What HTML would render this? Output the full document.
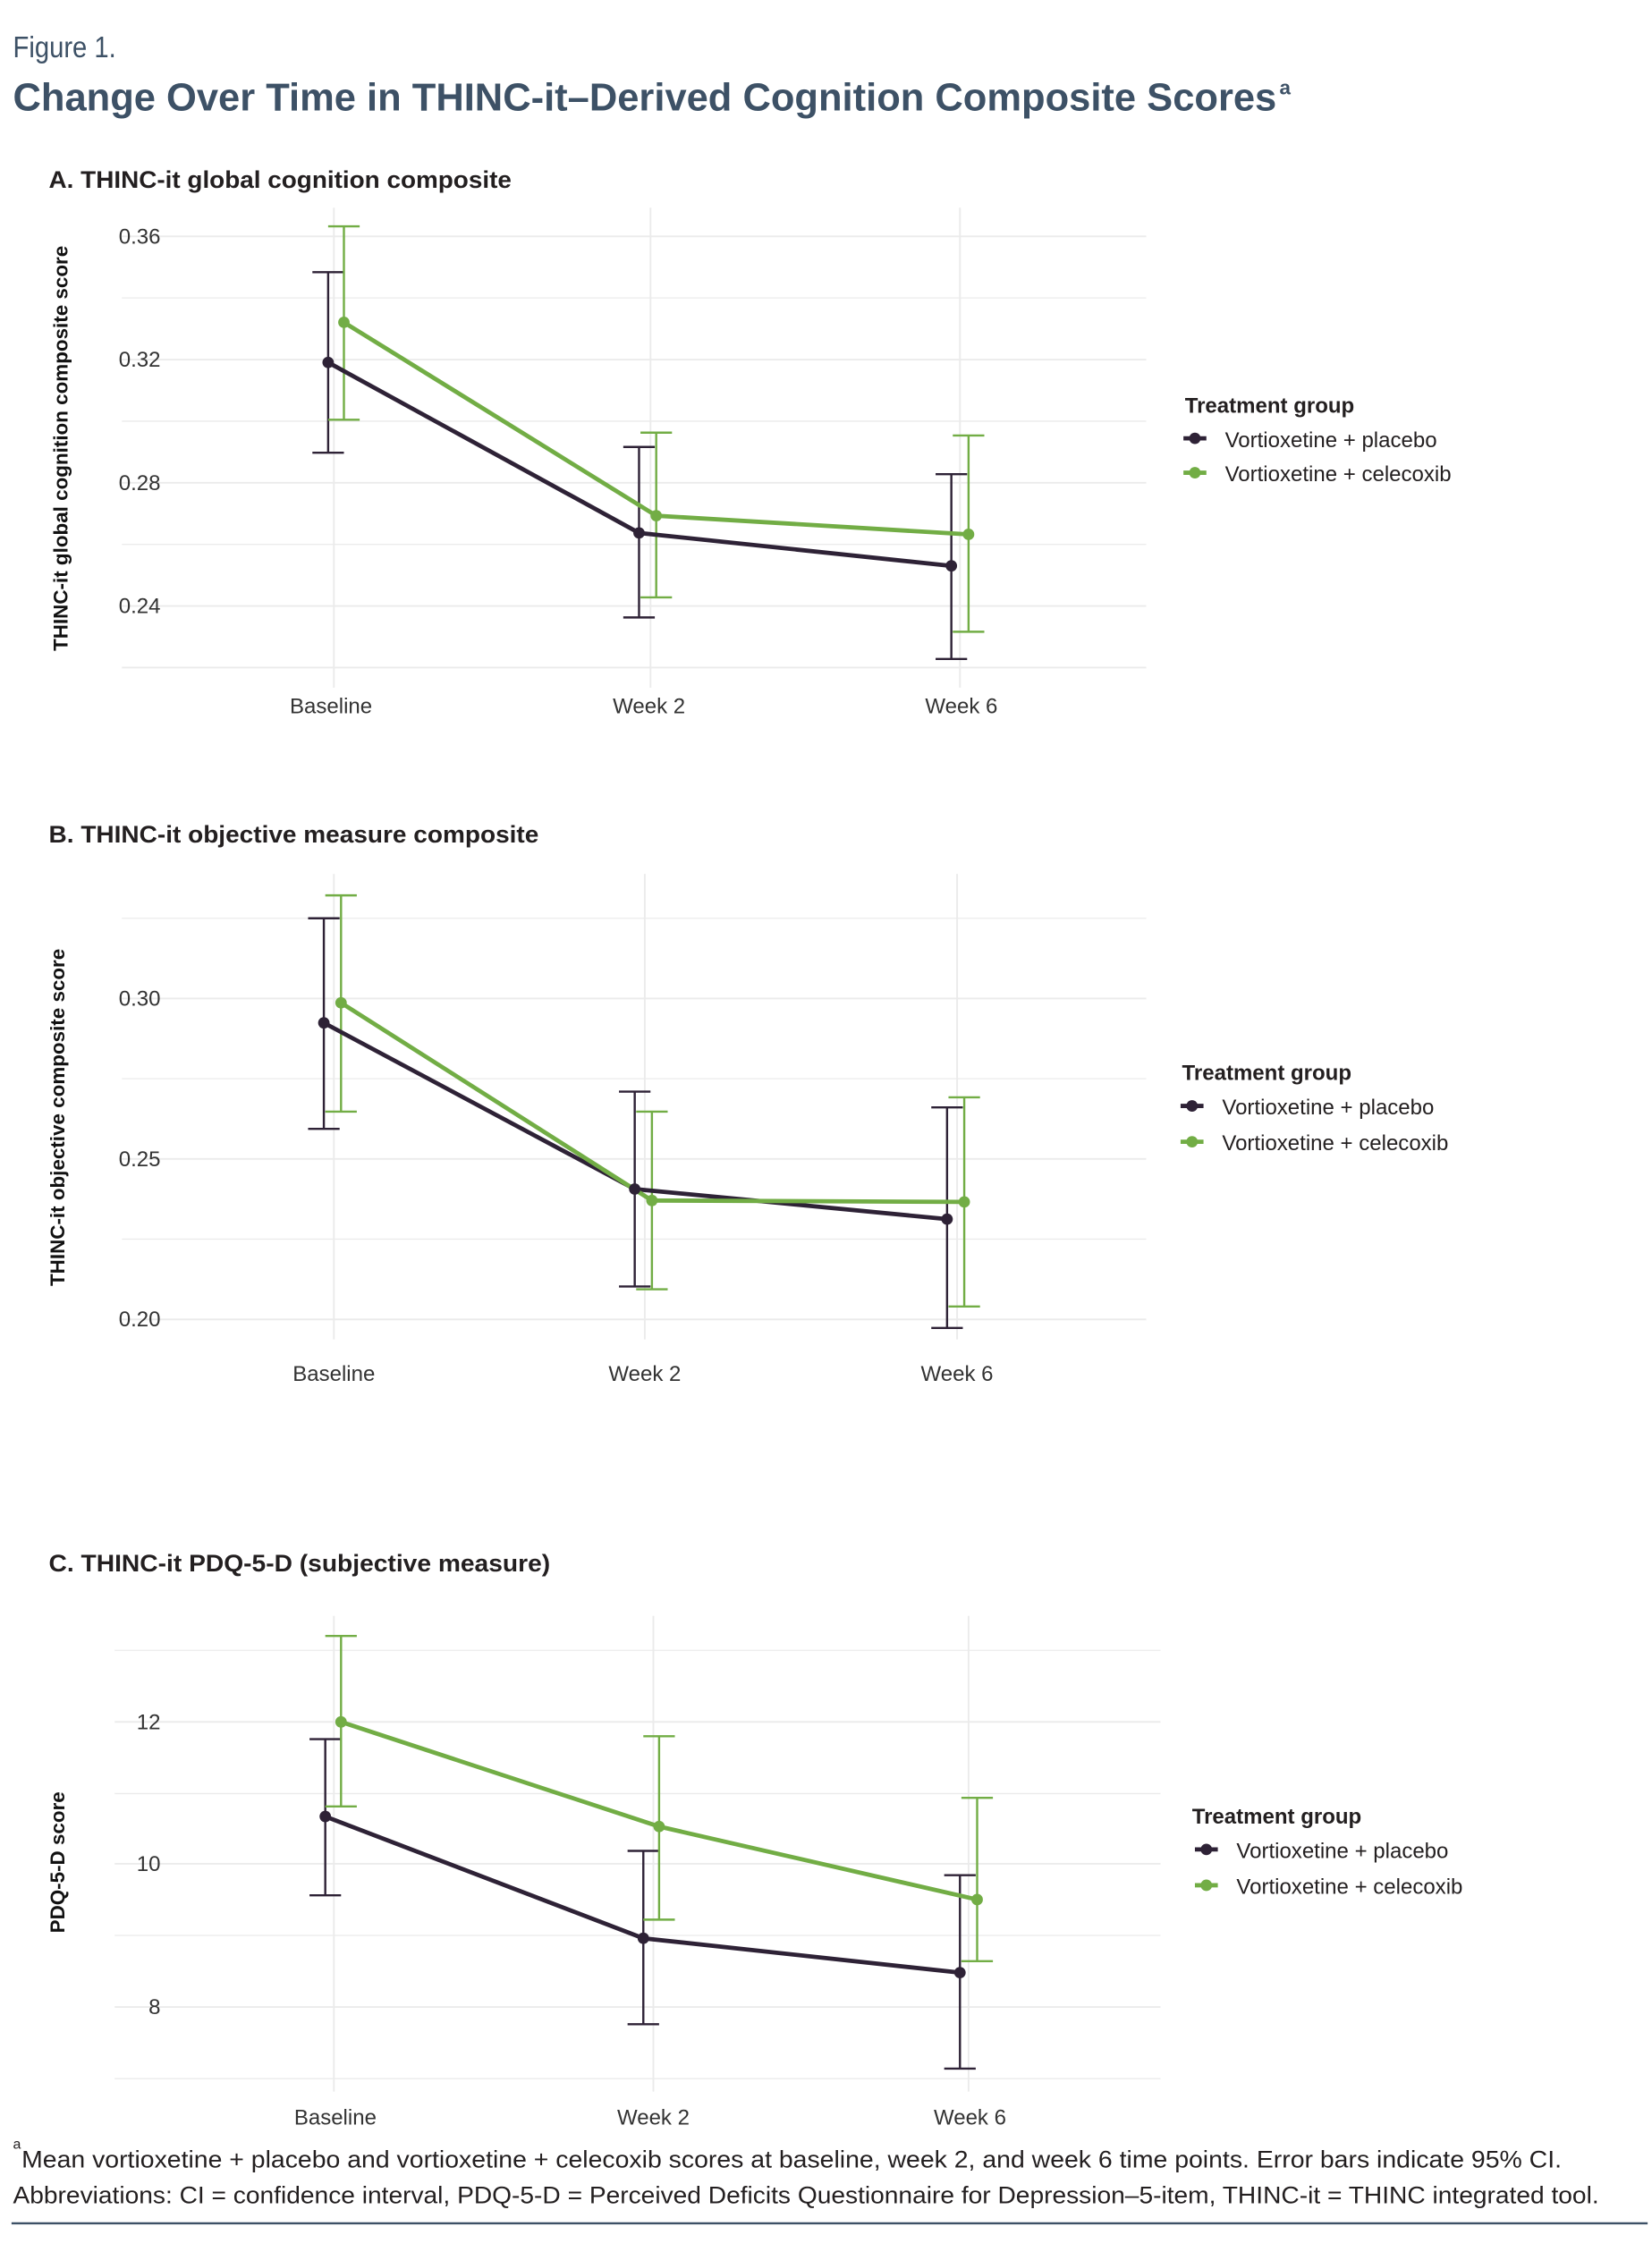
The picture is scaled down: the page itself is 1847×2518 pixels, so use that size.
<!DOCTYPE html>
<html><head><meta charset="utf-8"><style>
html,body{margin:0;padding:0;background:#fff;}
svg{display:block;}
text{font-family:"Liberation Sans",sans-serif;}
</style></head><body>
<svg width="1847" height="2518" viewBox="0 0 1153 1572" xmlns="http://www.w3.org/2000/svg">
<text x="9" y="40" font-size="21" fill="#3d5166" textLength="72" lengthAdjust="spacingAndGlyphs">Figure 1.</text>
<text x="9" y="77" font-size="27" font-weight="bold" fill="#3d5166" textLength="882" lengthAdjust="spacingAndGlyphs">Change Over Time in THINC-it–Derived Cognition Composite Scores</text>
<text x="893" y="66" font-size="14" font-weight="bold" fill="#3d5166">a</text>

<!-- Panel A -->
<text x="34" y="131" font-size="17" font-weight="bold" fill="#231f20" textLength="323" lengthAdjust="spacingAndGlyphs">A. THINC-it global cognition composite</text>
<g stroke="#ebebeb" stroke-width="1.2">
<line x1="85" y1="165" x2="800" y2="165"/><line x1="85" y1="251" x2="800" y2="251"/><line x1="85" y1="337" x2="800" y2="337"/><line x1="85" y1="423" x2="800" y2="423"/>
<line x1="85" y1="208" x2="800" y2="208" stroke-width="0.8"/><line x1="85" y1="294" x2="800" y2="294" stroke-width="0.8"/><line x1="85" y1="380" x2="800" y2="380" stroke-width="0.8"/><line x1="85" y1="466" x2="800" y2="466"/>
<line x1="233" y1="145" x2="233" y2="480"/><line x1="454" y1="145" x2="454" y2="480"/><line x1="670" y1="145" x2="670" y2="480"/>
</g>
<g font-size="15" fill="#333" text-anchor="end">
<text x="112" y="170">0.36</text><text x="112" y="256">0.32</text><text x="112" y="342">0.28</text><text x="112" y="428">0.24</text>
</g>
<g font-size="15" fill="#333" text-anchor="middle">
<text x="231" y="498">Baseline</text><text x="453" y="498">Week 2</text><text x="671" y="498">Week 6</text>
</g>
<text transform="translate(47,313) rotate(-90)" font-size="14" font-weight="bold" fill="#111" text-anchor="middle">THINC-it global cognition composite score</text>
<g stroke="#2e2236" stroke-width="1.5" fill="none">
<path d="M229 190V316M218 190H240M218 316H240"/>
<path d="M446 312V431M435 312H457M435 431H457"/>
<path d="M664 331V460M653 331H675M653 460H675"/>
</g>
<g stroke="#72ad45" stroke-width="1.5" fill="none">
<path d="M240 158V293M229 158H251M229 293H251"/>
<path d="M458 302V417M447 302H469M447 417H469"/>
<path d="M676 304V441M665 304H687M665 441H687"/>
</g>
<polyline points="229,253 446,372 664,395" fill="none" stroke="#2e2236" stroke-width="3"/>
<polyline points="240,225 458,360 676,373" fill="none" stroke="#72ad45" stroke-width="3"/>
<g fill="#2e2236"><circle cx="229" cy="253" r="4"/><circle cx="446" cy="372" r="4"/><circle cx="664" cy="395" r="4"/></g>
<g fill="#72ad45"><circle cx="240" cy="225" r="4"/><circle cx="458" cy="360" r="4"/><circle cx="676" cy="373" r="4"/></g>
<text x="827" y="288" font-size="15" font-weight="bold" fill="#231f20">Treatment group</text>
<line x1="826" y1="306" x2="842" y2="306" stroke="#2e2236" stroke-width="3"/><circle cx="834" cy="306" r="4" fill="#2e2236"/>
<text x="855" y="312" font-size="15" fill="#231f20">Vortioxetine + placebo</text>
<line x1="826" y1="330" x2="842" y2="330" stroke="#72ad45" stroke-width="3"/><circle cx="834" cy="330" r="4" fill="#72ad45"/>
<text x="855" y="336" font-size="15" fill="#231f20">Vortioxetine + celecoxib</text>

<!-- Panel B -->
<text x="34" y="588" font-size="17" font-weight="bold" fill="#231f20" textLength="342" lengthAdjust="spacingAndGlyphs">B. THINC-it objective measure composite</text>
<g stroke="#ebebeb" stroke-width="1.2">
<line x1="85" y1="641" x2="800" y2="641" stroke-width="0.8"/><line x1="85" y1="697" x2="800" y2="697"/><line x1="85" y1="753" x2="800" y2="753" stroke-width="0.8"/><line x1="85" y1="809" x2="800" y2="809"/><line x1="85" y1="865" x2="800" y2="865" stroke-width="0.8"/><line x1="85" y1="921" x2="800" y2="921"/>
<line x1="233" y1="610" x2="233" y2="935"/><line x1="450" y1="610" x2="450" y2="935"/><line x1="668" y1="610" x2="668" y2="935"/>
</g>
<g font-size="15" fill="#333" text-anchor="end">
<text x="112" y="702">0.30</text><text x="112" y="814">0.25</text><text x="112" y="926">0.20</text>
</g>
<g font-size="15" fill="#333" text-anchor="middle">
<text x="233" y="964">Baseline</text><text x="450" y="964">Week 2</text><text x="668" y="964">Week 6</text>
</g>
<text transform="translate(45,780) rotate(-90)" font-size="14" font-weight="bold" fill="#111" text-anchor="middle">THINC-it objective composite score</text>
<g stroke="#2e2236" stroke-width="1.5" fill="none">
<path d="M226 641V788M215 641H237M215 788H237"/>
<path d="M443 762V898M432 762H454M432 898H454"/>
<path d="M661 773V927M650 773H672M650 927H672"/>
</g>
<g stroke="#72ad45" stroke-width="1.5" fill="none">
<path d="M238 625V776M227 625H249M227 776H249"/>
<path d="M455 776V900M444 776H466M444 900H466"/>
<path d="M673 766V912M662 766H684M662 912H684"/>
</g>
<polyline points="226,714 443,830 661,851" fill="none" stroke="#2e2236" stroke-width="3"/>
<polyline points="238,700 455,838 673,839" fill="none" stroke="#72ad45" stroke-width="3"/>
<g fill="#2e2236"><circle cx="226" cy="714" r="4"/><circle cx="443" cy="830" r="4"/><circle cx="661" cy="851" r="4"/></g>
<g fill="#72ad45"><circle cx="238" cy="700" r="4"/><circle cx="455" cy="838" r="4"/><circle cx="673" cy="839" r="4"/></g>
<text x="825" y="754" font-size="15" font-weight="bold" fill="#231f20">Treatment group</text>
<line x1="824" y1="772" x2="840" y2="772" stroke="#2e2236" stroke-width="3"/><circle cx="832" cy="772" r="4" fill="#2e2236"/>
<text x="853" y="778" font-size="15" fill="#231f20">Vortioxetine + placebo</text>
<line x1="824" y1="797" x2="840" y2="797" stroke="#72ad45" stroke-width="3"/><circle cx="832" cy="797" r="4" fill="#72ad45"/>
<text x="853" y="803" font-size="15" fill="#231f20">Vortioxetine + celecoxib</text>

<!-- Panel C -->
<text x="34" y="1097" font-size="17" font-weight="bold" fill="#231f20" textLength="350" lengthAdjust="spacingAndGlyphs">C. THINC-it PDQ-5-D (subjective measure)</text>
<g stroke="#ebebeb" stroke-width="1.2">
<line x1="80" y1="1152" x2="810" y2="1152" stroke-width="0.8"/><line x1="80" y1="1202" x2="810" y2="1202"/><line x1="80" y1="1252" x2="810" y2="1252" stroke-width="0.8"/><line x1="80" y1="1301" x2="810" y2="1301"/><line x1="80" y1="1351" x2="810" y2="1351" stroke-width="0.8"/><line x1="80" y1="1401" x2="810" y2="1401"/><line x1="80" y1="1451" x2="810" y2="1451" stroke-width="0.8"/>
<line x1="233" y1="1128" x2="233" y2="1460"/><line x1="456" y1="1128" x2="456" y2="1460"/><line x1="676" y1="1128" x2="676" y2="1460"/>
</g>
<g font-size="15" fill="#333" text-anchor="end">
<text x="112" y="1207">12</text><text x="112" y="1306">10</text><text x="112" y="1406">8</text>
</g>
<g font-size="15" fill="#333" text-anchor="middle">
<text x="234" y="1483">Baseline</text><text x="456" y="1483">Week 2</text><text x="677" y="1483">Week 6</text>
</g>
<text transform="translate(45,1300) rotate(-90)" font-size="14" font-weight="bold" fill="#111" text-anchor="middle">PDQ-5-D score</text>
<g stroke="#2e2236" stroke-width="1.5" fill="none">
<path d="M227 1214V1323M216 1214H238M216 1323H238"/>
<path d="M449 1292V1413M438 1292H460M438 1413H460"/>
<path d="M670 1309V1444M659 1309H681M659 1444H681"/>
</g>
<g stroke="#72ad45" stroke-width="1.5" fill="none">
<path d="M238 1142V1261M227 1142H249M227 1261H249"/>
<path d="M460 1212V1340M449 1212H471M449 1340H471"/>
<path d="M682 1255V1369M671 1255H693M671 1369H693"/>
</g>
<polyline points="227,1268 449,1353 670,1377" fill="none" stroke="#2e2236" stroke-width="3"/>
<polyline points="238,1202 460,1275 682,1326" fill="none" stroke="#72ad45" stroke-width="3"/>
<g fill="#2e2236"><circle cx="227" cy="1268" r="4"/><circle cx="449" cy="1353" r="4"/><circle cx="670" cy="1377" r="4"/></g>
<g fill="#72ad45"><circle cx="238" cy="1202" r="4"/><circle cx="460" cy="1275" r="4"/><circle cx="682" cy="1326" r="4"/></g>
<text x="832" y="1273" font-size="15" font-weight="bold" fill="#231f20">Treatment group</text>
<line x1="834" y1="1291" x2="850" y2="1291" stroke="#2e2236" stroke-width="3"/><circle cx="842" cy="1291" r="4" fill="#2e2236"/>
<text x="863" y="1297" font-size="15" fill="#231f20">Vortioxetine + placebo</text>
<line x1="834" y1="1316" x2="850" y2="1316" stroke="#72ad45" stroke-width="3"/><circle cx="842" cy="1316" r="4" fill="#72ad45"/>
<text x="863" y="1322" font-size="15" fill="#231f20">Vortioxetine + celecoxib</text>

<!-- Footnotes -->
<text x="9" y="1500" font-size="10" fill="#231f20">a</text>
<text x="15" y="1513" font-size="17" fill="#231f20" textLength="1075" lengthAdjust="spacingAndGlyphs">Mean vortioxetine + placebo and vortioxetine + celecoxib scores at baseline, week 2, and week 6 time points. Error bars indicate 95% CI.</text>
<text x="9" y="1538" font-size="17" fill="#231f20" textLength="1107" lengthAdjust="spacingAndGlyphs">Abbreviations: CI = confidence interval, PDQ-5-D = Perceived Deficits Questionnaire for Depression–5-item, THINC-it = THINC integrated tool.</text>
<line x1="8" y1="1552" x2="1150" y2="1552" stroke="#3d5166" stroke-width="1.5"/>
</svg>
</body></html>
